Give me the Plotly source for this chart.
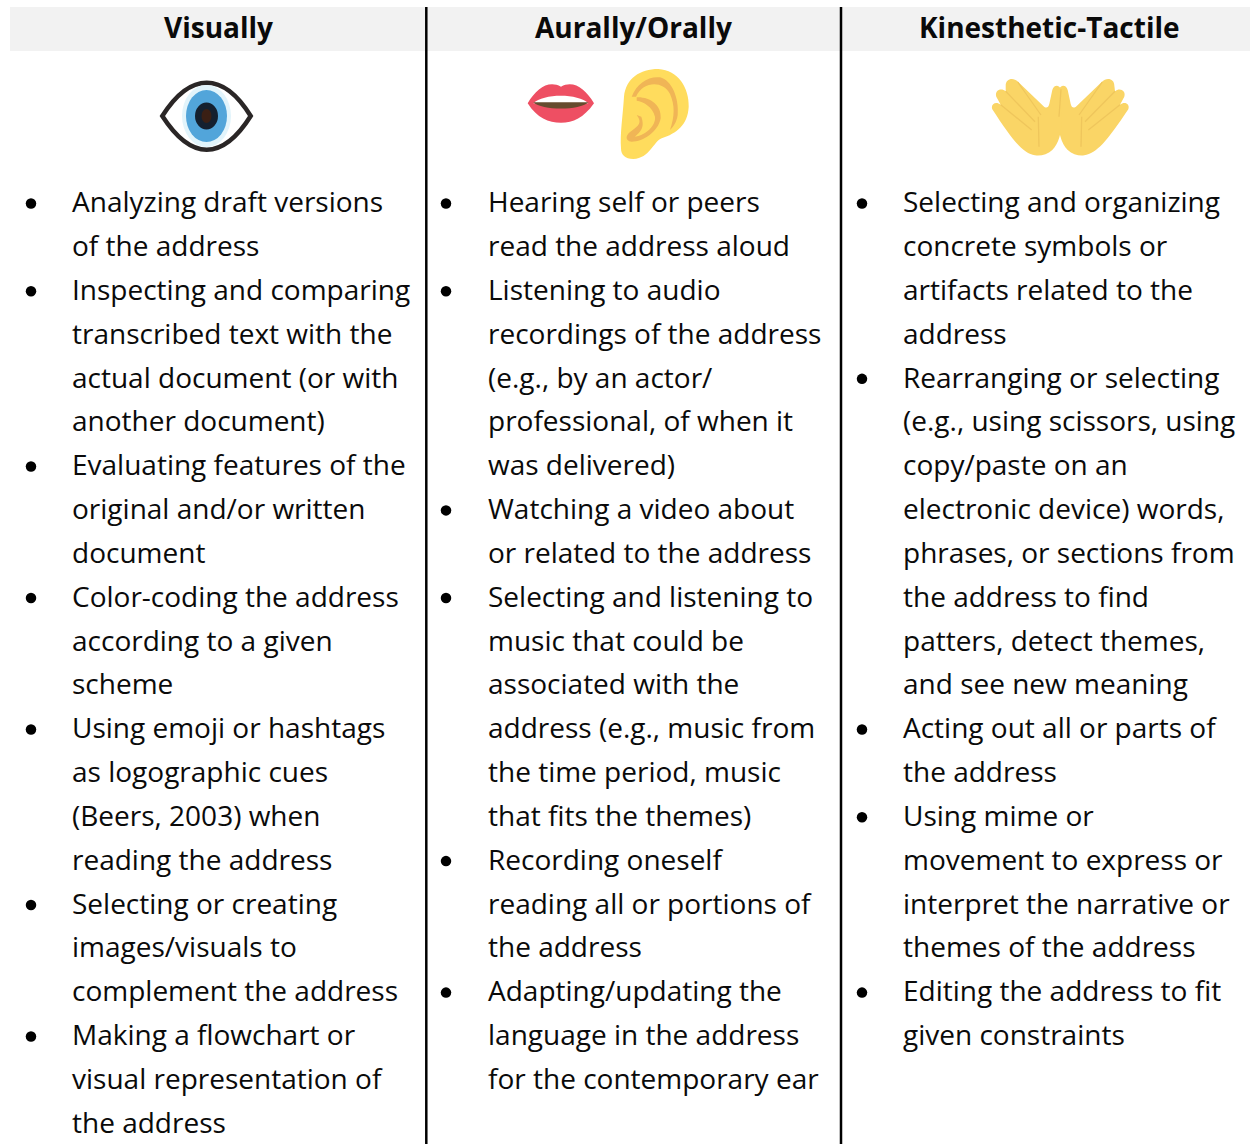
import plotly.graph_objects as go

# ---------- content ----------
headers = ["Visually", "Aurally/Orally", "Kinesthetic-Tactile"]

visual_items = [
    ["Analyzing draft versions", "of the address"],
    ["Inspecting and comparing", "transcribed text with the", "actual document (or with", "another document)"],
    ["Evaluating features of the", "original and/or written", "document"],
    ["Color-coding the address", "according to a given", "scheme"],
    ["Using emoji or hashtags", "as logographic cues", "(Beers, 2003) when", "reading the address"],
    ["Selecting or creating", "images/visuals to", "complement the address"],
    ["Making a flowchart or", "visual representation of", "the address"],
]
aural_items = [
    ["Hearing self or peers", "read the address aloud"],
    ["Listening to audio", "recordings of the address", "(e.g., by an actor/", "professional, of when it", "was delivered)"],
    ["Watching a video about", "or related to the address"],
    ["Selecting and listening to", "music that could be", "associated with the", "address (e.g., music from", "the time period, music", "that fits the themes)"],
    ["Recording oneself", "reading all or portions of", "the address"],
    ["Adapting/updating the", "language in the address", "for the contemporary ear"],
]
kinesthetic_items = [
    ["Selecting and organizing", "concrete symbols or", "artifacts related to the", "address"],
    ["Rearranging or selecting", "(e.g., using scissors, using", "copy/paste on an", "electronic device) words,", "phrases, or sections from", "the address to find", "patters, detect themes,", "and see new meaning"],
    ["Acting out all or parts of", "the address"],
    ["Using mime or", "movement to express or", "interpret the narrative or", "themes of the address"],
    ["Editing the address to fit", "given constraints"],
]
columns = [visual_items, aural_items, kinesthetic_items]

# ---------- layout ----------
W, H = 1250, 1144
FONT = "Open Sans"
INK = "#0a0a0a"
BAND = "#f2f2f2"
header_x = [218, 633, 1049]
bullet_x = [31, 446, 862]
text_x = [72, 487.5, 903]
rules_x = [426.3, 841]
first_row_y, row_step = 201.2, 43.84

fig = go.Figure()
shapes = [
    dict(type="rect", x0=10, x1=W, y0=7, y1=51, fillcolor=BAND, line_width=0, layer="below"),
]
for rx in rules_x:
    shapes.append(dict(type="line", x0=rx, x1=rx, y0=7, y1=H, line=dict(color="#000000", width=2.5)))

annotations = []
for hx, name in zip(header_x, headers):
    annotations.append(dict(x=hx, y=26.6, text=f"<b>{name}</b>", showarrow=False, xanchor="center",
                            yanchor="middle", font=dict(family=FONT, size=28, color=INK)))

bx, by = [], []
for c, items in enumerate(columns):
    row = 0
    for item in items:
        bx.append(bullet_x[c])
        by.append(first_row_y + row * row_step + 2.3)
        for line in item:
            annotations.append(dict(x=text_x[c], y=first_row_y + row * row_step, text=line, showarrow=False,
                                    xanchor="left", yanchor="middle", borderpad=0, borderwidth=0,
                                    font=dict(family=FONT, size=28, color=INK)))
            row += 1

fig.add_trace(go.Scatter(x=bx, y=by, mode="markers", hoverinfo="skip",
                         marker=dict(size=10.5, color="#000000", line_width=0)))


def ell(cx, cy, rx, ry, fill, line=None, lw=0):
    return dict(type="circle", x0=cx - rx, x1=cx + rx, y0=cy - ry, y1=cy + ry, fillcolor=fill,
                line=dict(color=line or fill, width=lw))


def path(d, fill=None, line=None, lw=0):
    s = dict(type="path", path=d, line=dict(color=line or "rgba(0,0,0,0)", width=lw))
    if fill:
        s["fillcolor"] = fill
    return s


def zoomed(ox, pts):
    """Build an SVG path from points read on a 3x zoom crop with horizontal origin ox."""
    out = []
    for tok in pts.split():
        if tok.isalpha():
            out.append(tok)
        else:
            a, b = tok.split(",")
            out.append(f"{ox + float(a) / 3:.1f},{float(b) / 3:.1f}")
    return " ".join(out)


# eye icon
shapes += [
    path(zoomed(0, "M 487,348 C 530,280 575,248 620,248 C 665,248 710,280 752,348 C 710,415 665,449 620,449 C 575,449 530,415 487,348 Z"),
         fill="#ffffff", line="#2a2626", lw=4.5),
    ell(206.5, 116, 24.5, 31, "#e2f4fb"),
    ell(206.5, 116, 20.5, 26, "#52a5da"),
    ell(206.5, 116, 11.5, 13.5, "#14202f"),
    ell(206.5, 116, 5, 7, "#3a1f14"),
]

# lips icon
shapes += [
    path(zoomed(420, "M 323,310 C 350,265 385,240 423,260 C 460,240 495,265 522,310 C 490,355 460,368 423,368 C 385,368 352,355 323,310 Z"), fill="#ee4f63"),
    path(zoomed(420, "M 340,310 C 370,280 475,280 505,310 Z"), fill="#ffffff"),
    path(zoomed(420, "M 340,307 L 505,307 C 480,332 365,332 340,307 Z"), fill="#664b2e"),
]

# ear icon
shapes += [
    path(zoomed(420, "M 603,445 C 600,400 608,350 612,290 C 618,235 660,207 715,207 C 775,210 808,265 806,320 C 803,375 770,400 725,415 C 700,425 690,475 640,477 C 615,477 603,465 603,445 Z"), fill="#ffdc5d"),
    path(zoomed(420, "M 635,290 C 650,250 685,228 720,232 C 755,240 778,295 773,345 C 770,365 762,378 750,390 C 764,350 765,315 750,282 C 730,242 670,242 648,290 Z"), fill="#f0b556"),
    path(zoomed(420, "M 650,292 C 690,290 725,315 722,355 C 715,395 670,425 635,425 C 612,422 618,402 635,392 C 655,378 668,368 650,345 L 664,350 C 676,385 660,395 645,410 C 680,405 708,375 705,350 C 698,320 670,305 650,302 Z"), fill="#f0b556"),
]

# hands icon
left_hand = "M 600,466 C 565,460 535,425 472,328 C 466,312 483,303 497,314 L 484,290 C 478,272 498,262 512,274 L 512,256 C 512,236 535,230 550,246 L 625,318 C 632,325 640,325 643,312 L 652,270 C 656,254 672,252 678,268 L 680,340 C 682,395 672,430 652,450 C 637,464 618,468 600,466 Z"
right_hand = "M 748,466 C 785,460 815,425 880,328 C 886,312 869,303 855,314 L 868,290 C 874,272 854,262 840,274 L 838,256 C 838,236 815,230 800,246 L 725,318 C 718,325 710,325 707,312 L 698,270 C 694,254 678,252 672,268 L 670,340 C 668,395 678,430 698,450 C 713,464 732,468 748,466 Z"
shapes += [
    path(zoomed(835, right_hand), fill="#fad566"),
    path(zoomed(835, left_hand), fill="#fad566"),
    path(zoomed(835, "M 497,314 L 590,390 M 512,274 L 600,365 M 548,246 L 618,345 M 678,268 L 672,350 M 610,350 L 612,440"), line="#efc65c", lw=1.3),
    path(zoomed(835, "M 855,314 L 760,390 M 840,274 L 750,365 M 802,246 L 732,345 M 740,350 L 738,440"), line="#efc65c", lw=1.3),
]

fig.update_layout(
    width=W, height=H, margin=dict(l=0, r=0, t=0, b=0),
    paper_bgcolor="#ffffff", plot_bgcolor="#ffffff", showlegend=False,
    xaxis=dict(range=[0, W], visible=False, fixedrange=True),
    yaxis=dict(range=[H, 0], visible=False, fixedrange=True),
    shapes=shapes, annotations=annotations,
)
fig.write_html("out.html", config={"displayModeBar": False},
               post_script="document.body.style.margin='0';document.documentElement.style.overflow='hidden';")
